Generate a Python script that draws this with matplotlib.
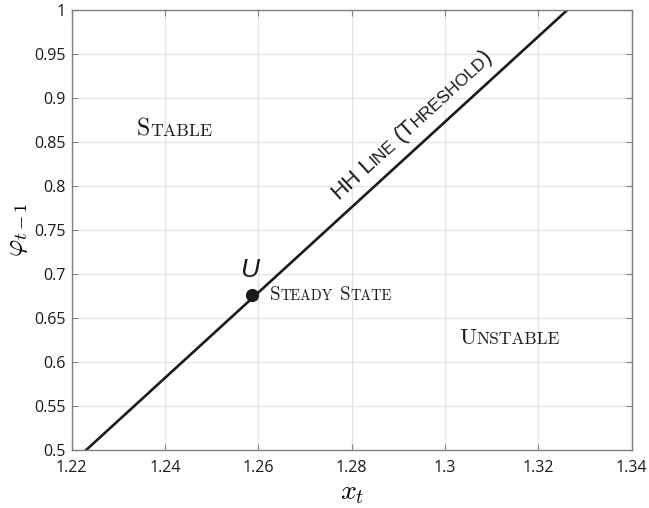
import numpy as np
import matplotlib
matplotlib.use("Agg")
import matplotlib.pyplot as plt

# data
line_x = [1.2231, 1.3262]
line_y = [0.5, 1.0]
steady_x = [1.2587]
steady_y = [0.6757]
x_ticks = [1.22, 1.24, 1.26, 1.28, 1.30, 1.32, 1.34]
x_tick_labels = ["1.22", "1.24", "1.26", "1.28", "1.3", "1.32", "1.34"]
y_ticks = [0.5, 0.55, 0.6, 0.65, 0.7, 0.75, 0.8, 0.85, 0.9, 0.95, 1.0]
y_tick_labels = ["0.5", "0.55", "0.6", "0.65", "0.7", "0.75", "0.8", "0.85", "0.9", "0.95", "1"]

plt.rcParams["mathtext.fontset"] = "cm"
tick_font = "Open Sans"

fig = plt.figure(figsize=(6.49, 5.08), dpi=100)
ax = fig.add_axes([71.7 / 649, 58 / 508, 560 / 649, 440 / 508])
ax.set_xlim(1.22, 1.34)
ax.set_ylim(0.5, 1.0)

ax.set_xticks(x_ticks)
ax.set_xticklabels(x_tick_labels, fontfamily=tick_font, fontsize=11.5)
ax.set_yticks(y_ticks)
ax.set_yticklabels(y_tick_labels, fontfamily=tick_font, fontsize=11.5)
ax.tick_params(direction="in", length=4, width=0.8, color="#808080",
               top=True, right=True, labelcolor="#1a1a1a")
ax.tick_params(axis="x", pad=7)
ax.tick_params(axis="y", pad=4.5)
for s in ax.spines.values():
    s.set_color("#808080")
    s.set_linewidth(1.0)
ax.grid(True, color="#e3e3e3", linewidth=0.9)
ax.set_axisbelow(True)

ax.set_xlabel(r"$x_t$", fontsize=20, labelpad=2)
ax.set_ylabel(r"$\varphi_{t-1}$", fontsize=19, labelpad=3)

ax.plot(line_x, line_y, color="#1a1a1a", linewidth=1.9)
ax.plot(steady_x, steady_y, "o", color="#1a1a1a", markersize=8.5)

renderer = fig.canvas.get_renderer()


def text_width(s, size, family):
    t = ax.text(0, 0, s, fontsize=size, family=family)
    w = t.get_window_extent(renderer).width
    t.remove()
    return w


# fake small caps: capitals full size, lower case letters as smaller capitals
def small_caps(x, y, text, big, small, family, rotation=0.0, color="#1a1a1a"):
    pieces = []
    for ch in text:
        lower = ch.islower()
        if pieces and pieces[-1][1] == lower:
            pieces[-1][0] += ch
        else:
            pieces.append([ch, lower])
    space_w = text_width("a a", big, family) - text_width("aa", big, family)
    p0 = ax.transData.transform((x, y))
    d = np.array([np.cos(np.radians(rotation)), np.sin(np.radians(rotation))])
    adv = 0.0
    for s, lower in pieces:
        size = small if lower else big
        s = s.upper()
        for k, word in enumerate(s.split(" ")):
            if k > 0:
                adv += space_w
            if word == "":
                continue
            pos = ax.transData.inverted().transform(p0 + adv * d)
            ax.text(pos[0], pos[1], word, fontsize=size, family=family,
                    rotation=rotation, rotation_mode="anchor",
                    ha="left", va="baseline", color=color)
            adv += text_width(word, size, family)


small_caps(1.2340, 0.857, "Stable", 17, 12.8, "cmr10")
small_caps(1.3030, 0.620, "Unstable", 16.5, 12.5, "cmr10")
small_caps(1.2625, 0.670, "Steady State", 13.7, 10.3, "cmr10")

angle = np.degrees(np.arctan2((line_y[1] - line_y[0]) * 440 / 0.5,
                              (line_x[1] - line_x[0]) * 560 / 0.12))
small_caps(1.2770, 0.784, "HH Line (Threshold)", 16, 12.5, "Liberation Sans",
           rotation=angle)

ax.text(1.2580, 0.697, "U", fontsize=19, family="Liberation Sans",
        style="italic", ha="center", va="baseline", color="#1a1a1a")

fig.savefig("out.png", dpi=100)
